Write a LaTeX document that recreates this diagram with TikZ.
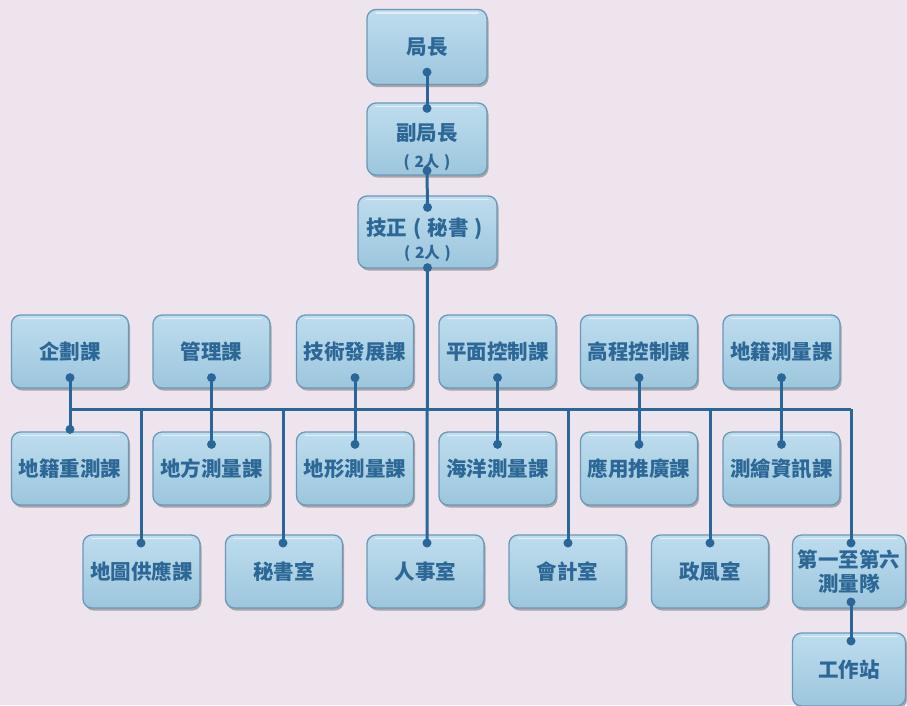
\documentclass[tikz,border=0pt]{standalone}
\usepackage{fontspec}
\newfontfamily\cjk{Noto Sans CJK TC}
\usetikzlibrary{shadows,calc}
\definecolor{bg}{HTML}{EEE4EE}
\definecolor{boxtop}{HTML}{BEDDEE}
\definecolor{boxbot}{HTML}{9CC6DD}
\definecolor{boxline}{HTML}{6A98B7}
\definecolor{txt}{HTML}{2C6795}
\definecolor{wire}{HTML}{2A6698}
\newcommand\lpar{\makebox[1em]{(}}
\newcommand\rpar{\makebox[1em]{)}}
\begin{document}
\begin{tikzpicture}[x=1pt,y=-1pt,
  box/.style={rounded corners=9pt, draw=boxline, line width=1.3pt,
    top color=boxtop, bottom color=boxbot,
    minimum width=117pt, minimum height=73pt, inner sep=2pt, align=center,
    font=\cjk\bfseries\fontsize{20.5}{25}\selectfont, text=txt,
    drop shadow={shadow xshift=1.5pt, shadow yshift=-2.5pt, opacity=0.5, fill=black!60},
    path picture={\draw[white, opacity=0.55, line width=1.6pt, line cap=round]
      ([xshift=9pt,yshift=-3.5pt]path picture bounding box.north west) --
      ([xshift=-9pt,yshift=-3.5pt]path picture bounding box.north east);}},
  wireline/.style={draw=wire, line width=3pt},
  dot/.style={fill=wire}]
\fill[bg] (0,0) rectangle (907,705);
\useasboundingbox (0,0) rectangle (907,705);

% top chain
\node[box, minimum width=120pt, minimum height=75pt] (chief) at (427,47) {局長};
\node[box, minimum width=120pt, minimum height=72pt] (vice) at (427,139)
  {\rule{0pt}{34pt}副局長\\[2pt]{\fontsize{15.5}{17}\selectfont \lpar 2人\rpar}};
\node[box, minimum width=139pt, minimum height=72pt] (tech) at (427.5,232)
  {\rule{0pt}{34pt}技正\lpar 秘書\rpar\\[-2pt]{\fontsize{15.5}{17}\selectfont \lpar 2人\rpar}};

% row 1
\node[box] (r1a) at (70,351.5) {企劃課};
\node[box] (r1b) at (211.5,351.5) {管理課};
\node[box] (r1c) at (355,351.5) {技術發展課};
\node[box] (r1d) at (497.5,351.5) {平面控制課};
\node[box] (r1e) at (639,351.5) {高程控制課};
\node[box] (r1f) at (781.5,351.5) {地籍測量課};
% row 2
\node[box] (r2a) at (70,468.5) {地籍重測課};
\node[box] (r2b) at (211.5,468.5) {地方測量課};
\node[box] (r2c) at (355,468.5) {地形測量課};
\node[box] (r2d) at (497.5,468.5) {海洋測量課};
\node[box] (r2e) at (639,468.5) {應用推廣課};
\node[box] (r2f) at (781.5,468.5) {測繪資訊課};
% row 3
\node[box] (r3a) at (141.5,571.5) {地圖供應課};
\node[box] (r3b) at (284,571.5) {秘書室};
\node[box] (r3c) at (425.5,571.5) {人事室};
\node[box] (r3d) at (567.5,571.5) {會計室};
\node[box] (r3e) at (710,571.5) {政風室};
\node[box, minimum width=113pt, font=\cjk\bfseries\fontsize{20.5}{24}\selectfont] (r3f) at (849,571.5) {第一至第六\\測量隊};
\node[box, minimum width=113pt] (r4f) at (849,669.5) {工作站};

% anchor coordinates for connector ends
\coordinate (c1) at ([yshift=13pt]chief.south);
\coordinate (v1) at ([yshift=-6pt]vice.north);
\coordinate (v2) at ([yshift=5pt]vice.south);
\coordinate (t1) at ([yshift=-12pt]tech.north);
\coordinate (t2) at ([yshift=1pt]tech.south);
\foreach \n in {a,b,c,d,e,f}{
  \coordinate (u\n) at ([yshift=11pt]r1\n.south);
}
\coordinate (la) at ([yshift=2pt]r2a.north);
\foreach \n in {b,c,d,e,f}{
  \coordinate (l\n) at ([yshift=-13pt]r2\n.north);
}
\coordinate (dA) at (141,543);
\coordinate (dB) at (283,543);
\coordinate (dC) at (427,543);
\coordinate (dD) at (568,543);
\coordinate (dE) at (710,543);
\coordinate (dF) at (851,543);
\coordinate (f2) at (851,602);
\coordinate (w1) at (851,641);
\coordinate (busL) at (69,409);
\coordinate (busR) at (851,409);

% connectors
\draw[wireline] (c1) -- (v1);
\draw[wireline] (v2) -- (t1);
\draw[wireline] (t2) -- (dC);
\draw[wireline] (busL) -- (busR);
\draw[wireline] (ua) -- (la);
\foreach \n in {b,c,d,e,f}{ \draw[wireline] (u\n) -- (l\n); }
\foreach \n in {A,B,D,E,F}{ \draw[wireline] (d\n |- busL) -- (d\n); }
\draw[wireline] (f2) -- (w1);

\foreach \p in {c1,v1,v2,t1,t2,ua,ub,uc,ud,ue,uf,la,lb,lc,ld,le,lf,dA,dB,dC,dD,dE,dF,f2,w1}{
  \fill[dot] (\p) circle (4.5pt);
}
\end{tikzpicture}
\end{document}
